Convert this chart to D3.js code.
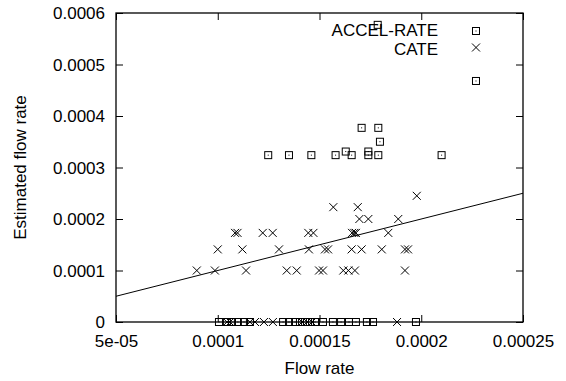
<!DOCTYPE html>
<html>
<head>
<meta charset="utf-8">
<script src="https://cdn.jsdelivr.net/npm/d3@7"></script>
<style>
  html, body { margin: 0; padding: 0; background: #fff; }
  svg { display: block; }
  text { font-family: "Liberation Sans", Arial, Helvetica, sans-serif; font-size: 17px; fill: #000; }
</style>
</head>
<body>
<script>
// Flow-rate estimates: ACCEL-RATE and CATE against measured flow rate
const accelFlow = [
  1.248e-4, 1.350e-4, 1.460e-4, 1.579e-4, 1.629e-4, 1.658e-4, 1.707e-4, 1.740e-4,
  1.740e-4, 1.789e-4, 1.797e-4, 1.789e-4, 2.100e-4, 2.269e-4, 1.786e-4,
  1.006e-4, 1.045e-4, 1.070e-4, 1.099e-4, 1.129e-4, 1.158e-4, 1.321e-4, 1.350e-4,
  1.380e-4, 1.404e-4, 1.429e-4, 1.453e-4, 1.478e-4, 1.517e-4, 1.566e-4, 1.606e-4,
  1.645e-4, 1.679e-4, 1.733e-4, 1.763e-4, 1.974e-4
];
const accelEst = [
  3.24e-4, 3.24e-4, 3.24e-4, 3.24e-4, 3.31e-4, 3.24e-4, 3.77e-4, 3.31e-4,
  3.24e-4, 3.77e-4, 3.50e-4, 3.24e-4, 3.24e-4, 4.68e-4, 5.77e-4,
  0, 0, 0, 0, 0, 0, 0, 0,
  0, 0, 0, 0, 0, 0, 0, 0,
  0, 0, 0, 0, 0
];

const cateFlow = [
  // ~1.0e-4
  0.897e-4, 0.986e-4, 1.139e-4, 1.339e-4, 1.388e-4, 1.498e-4, 1.517e-4, 1.617e-4, 1.642e-4, 1.674e-4, 1.920e-4,
  // ~1.41e-4
  1.000e-4, 1.121e-4, 1.301e-4, 1.448e-4, 1.527e-4, 1.542e-4, 1.658e-4, 1.707e-4, 1.806e-4, 1.920e-4, 1.935e-4,
  // ~1.73e-4
  1.085e-4, 1.097e-4, 1.221e-4, 1.270e-4, 1.445e-4, 1.470e-4, 1.660e-4, 1.671e-4, 1.679e-4, 1.838e-4,
  // higher estimates
  1.696e-4, 1.740e-4, 1.887e-4, 1.568e-4, 1.688e-4, 1.978e-4,
  // zero estimates
  1.045e-4, 1.060e-4, 1.158e-4, 1.183e-4, 1.227e-4, 1.271e-4, 1.414e-4, 1.439e-4, 1.463e-4, 1.881e-4
];
const cateEst = [
  1.0e-4, 1.0e-4, 1.0e-4, 1.0e-4, 1.0e-4, 1.0e-4, 1.0e-4, 1.0e-4, 1.0e-4, 1.0e-4, 1.0e-4,
  1.41e-4, 1.41e-4, 1.41e-4, 1.41e-4, 1.41e-4, 1.41e-4, 1.41e-4, 1.41e-4, 1.41e-4, 1.41e-4, 1.41e-4,
  1.73e-4, 1.73e-4, 1.73e-4, 1.73e-4, 1.73e-4, 1.73e-4, 1.73e-4, 1.73e-4, 1.73e-4, 1.73e-4,
  2.0e-4, 2.0e-4, 2.0e-4, 2.23e-4, 2.23e-4, 2.45e-4,
  0, 0, 0, 0, 0, 0, 0, 0, 0, 0
];

// Reference line y = x
const idealFlow = [5e-5, 2.5e-4];

const xTicks = [5e-5, 1e-4, 1.5e-4, 2e-4, 2.5e-4];
const xTickLabels = ["5e-05", "0.0001", "0.00015", "0.0002", "0.00025"];
const yTicks = [0, 1e-4, 2e-4, 3e-4, 4e-4, 5e-4, 6e-4];
const yTickLabels = ["0", "0.0001", "0.0002", "0.0003", "0.0004", "0.0005", "0.0006"];

const seriesNames = ["ACCEL-RATE", "CATE"];

const W = 566, H = 381;
const m = { left: 116, right: 43, top: 13, bottom: 59 };

const svg = d3.select("body").append("svg")
  .attr("width", W).attr("height", H);

const x = d3.scaleLinear().domain([5e-5, 2.5e-4]).range([m.left, W - m.right]);
const y = d3.scaleLinear().domain([0, 6e-4]).range([H - m.bottom, m.top]);

const tick = 7;

// Bottom axis with inward ticks and labels
const gx = svg.append("g")
  .attr("transform", `translate(0,${y(0)})`)
  .call(d3.axisBottom(x).tickValues(xTicks)
    .tickFormat((d, i) => xTickLabels[i])
    .tickSizeInner(-tick).tickSizeOuter(0));
gx.selectAll("text").attr("y", 13).attr("dy", "0.71em");

// Left axis
const gy = svg.append("g")
  .attr("transform", `translate(${x(5e-5)},0)`)
  .call(d3.axisLeft(y).tickValues(yTicks)
    .tickFormat((d, i) => yTickLabels[i])
    .tickSizeInner(-tick).tickSizeOuter(0));
gy.selectAll("text").attr("x", -11).attr("dy", "0.34em");

// Mirrored ticks on top and right
svg.append("g")
  .attr("transform", `translate(0,${y(6e-4)})`)
  .call(d3.axisTop(x).tickValues(xTicks).tickFormat("")
    .tickSizeInner(-tick).tickSizeOuter(0));
svg.append("g")
  .attr("transform", `translate(${x(2.5e-4)},0)`)
  .call(d3.axisRight(y).tickValues(yTicks).tickFormat("")
    .tickSizeInner(-tick).tickSizeOuter(0));

svg.selectAll(".domain").remove();
svg.selectAll(".tick line").attr("stroke", "#000").attr("stroke-width", 1);
svg.selectAll(".tick text").style("font-size", "17px")
  .style("font-family", "'Liberation Sans', Arial, sans-serif");

// Frame
svg.append("rect")
  .attr("x", x(5e-5)).attr("y", y(6e-4))
  .attr("width", x(2.5e-4) - x(5e-5)).attr("height", y(0) - y(6e-4))
  .attr("fill", "none").attr("stroke", "#000").attr("stroke-width", 1.3);

// Axis titles
svg.append("text")
  .attr("x", (x(5e-5) + x(2.5e-4)) / 2).attr("y", 374)
  .attr("text-anchor", "middle").text("Flow rate");
svg.append("text")
  .attr("transform", `translate(26,${(y(0) + y(6e-4)) / 2}) rotate(-90)`)
  .attr("text-anchor", "middle").text("Estimated flow rate");

// Marker drawers
const sq = 3.5;
function squareMark(g, cx, cy) {
  g.append("rect").attr("x", cx - sq).attr("y", cy - sq)
    .attr("width", 2 * sq).attr("height", 2 * sq)
    .attr("fill", "none").attr("stroke", "#000").attr("stroke-width", 1);
  g.append("rect").attr("x", cx - 0.5).attr("y", cy - 0.5)
    .attr("width", 1).attr("height", 1).attr("fill", "#000");
}
const cr = 4;
function crossMark(g, cx, cy) {
  g.append("path")
    .attr("d", `M${cx - cr},${cy - cr}L${cx + cr},${cy + cr}M${cx - cr},${cy + cr}L${cx + cr},${cy - cr}`)
    .attr("stroke", "#000").attr("stroke-width", 1).attr("fill", "none");
}

// y = x line
svg.append("line")
  .attr("x1", x(idealFlow[0])).attr("y1", y(idealFlow[0]))
  .attr("x2", x(idealFlow[1])).attr("y2", y(idealFlow[1]))
  .attr("stroke", "#000").attr("stroke-width", 1);

// ACCEL-RATE points
const gA = svg.append("g");
accelFlow.forEach((f, i) => squareMark(gA, x(f), y(accelEst[i])));

// CATE points
const gC = svg.append("g");
cateFlow.forEach((f, i) => crossMark(gC, x(f), y(cateEst[i])));

// Legend
const lg = svg.append("g");
const legX = 438, markX = 476;
const markRows = [31, 47.5];
const textRows = [35.5, 54.5];
lg.append("text").attr("x", legX).attr("y", textRows[0])
  .attr("text-anchor", "end").text(seriesNames[0]);
squareMark(lg, markX, markRows[0]);
lg.append("text").attr("x", legX).attr("y", textRows[1])
  .attr("text-anchor", "end").text(seriesNames[1]);
crossMark(lg, markX, markRows[1]);
</script>
</body>
</html>
